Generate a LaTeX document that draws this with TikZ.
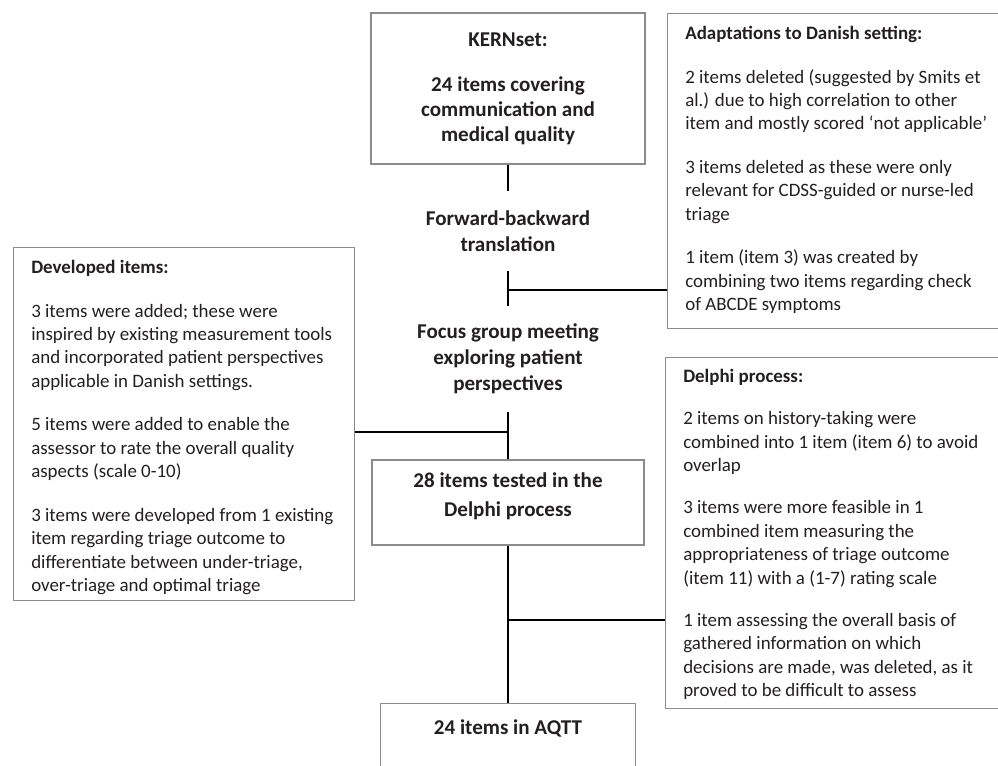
\documentclass[tikz,border=0pt]{standalone}
\usepackage{fontspec}
\setmainfont{Carlito}
\definecolor{ink}{HTML}{231F20}
\definecolor{frame}{HTML}{8C8C8C}
\newcommand{\gap}{\\[15pt]}

\begin{document}
\begin{tikzpicture}[x=0.75pt,y=-0.75pt]
                        \tikzstyle{box}=[draw=frame, line width=0.8pt, inner sep=0pt]
                        \tikzstyle{mainbox}=[box, text=ink, align=center, font=\fontsize{15.8}{18.75}\selectfont\bfseries]
                        \tikzstyle{stage}=[text=ink, align=center, inner sep=0pt, font=\fontsize{15.8}{19.5}\selectfont\bfseries]
                        \tikzstyle{sidebox}=[box, anchor=north west]
                        \tikzstyle{note}=[text=ink, align=left, anchor=north west, inner sep=0pt, font=\fontsize{14.2}{17.6}\selectfont]
                        \tikzstyle{link}=[draw=black, line width=0.8pt]
                        \useasboundingbox (0,0) rectangle (998,766);
                        \clip (0,0) rectangle (998,766);
                        \node[mainbox, minimum width=205.5pt, minimum height=113.25pt] (kern) at (508,88.5)
                            {KERNset:\\[15pt]24 items covering\\communication and\\medical quality};
                        \node[stage, minimum height=60pt] (fwd) at (508,231)
                            {Forward-backward\\translation};
                        \node[stage, minimum height=79.5pt] (focus) at (508,359)
                            {Focus group meeting\\exploring patient\\perspectives};
                        \node[mainbox, minimum width=204pt, minimum height=63.75pt, text depth=12pt,
                              font=\fontsize{15.8}{21.75}\selectfont\bfseries] (tested) at (508,502.5)
                            {28 items tested in the\\Delphi process};
                        \node[mainbox, anchor=north, minimum width=191.25pt, inner ysep=12.5pt, text depth=60pt] (aqtt) at (508,703)
                            {24 items in AQTT};
                        \node[sidebox, minimum width=255pt, minimum height=236.25pt] (adapt) at (667,13) {};
                        \node[note] (adapttext) at ([shift={(18,13)}]adapt.north west)
                            {\textbf{Adaptations to Danish setting:}\gap
                             2 items deleted (suggested by Smits et\\
                             al.) due to high correlation to other\\
                             item and mostly scored `not applicable'\gap
                             3 items deleted as these were only\\
                             relevant for CDSS-guided or nurse-led\\
                             triage\gap
                             1 item (item 3) was created by\\
                             combining two items regarding check\\
                             of ABCDE symptoms};
                        \node[sidebox, minimum width=255.75pt, minimum height=264.75pt] (dev) at (13,247) {};
                        \node[note] (devtext) at ([shift={(18,13)}]dev.north west)
                            {\textbf{Developed items:}\gap
                             3 items were added; these were\\
                             inspired by existing measurement tools\\
                             and incorporated patient perspectives\\
                             applicable in Danish settings.\gap
                             5 items were added to enable the\\
                             assessor to rate the overall quality\\
                             aspects (scale 0-10)\gap
                             3 items were developed from 1 existing\\
                             item regarding triage outcome to\\
                             differentiate between under-triage,\\
                             over-triage and optimal triage};
                        \node[sidebox, minimum width=255pt, minimum height=263.25pt] (delphi) at (665,357) {};
                        \node[note] (delphitext) at ([shift={(18,12)}]delphi.north west)
                            {\textbf{Delphi process:}\\[14pt]
                             2 items on history-taking were\\
                             combined into 1 item (item 6) to avoid\\
                             overlap\\[14pt]
                             3 items were more feasible in 1\\
                             combined item measuring the\\
                             appropriateness of triage outcome\\
                             (item 11) with a (1-7) rating scale\\[14pt]
                             1 item assessing the overall basis of\\
                             gathered information on which\\
                             decisions are made, was deleted, as it\\
                             proved to be difficult to assess};
                        \coordinate (j1) at (508,290);
                        \coordinate (j2) at (508,432);
                        \coordinate (j3) at (508,620);
                        \draw[link] (kern.south) -- (fwd.north);
                        \draw[link] (fwd.south) -- (focus.north);
                        \draw[link] (focus.south) -- (tested.north);
                        \draw[link] (tested.south) -- (aqtt.north);
                        \draw[link] (j1) -- (j1 -| adapt.west);
                        \draw[link] (j2) -- (j2 -| dev.east);
                        \draw[link] (j3) -- (j3 -| delphi.west);
\end{tikzpicture}
\end{document}
